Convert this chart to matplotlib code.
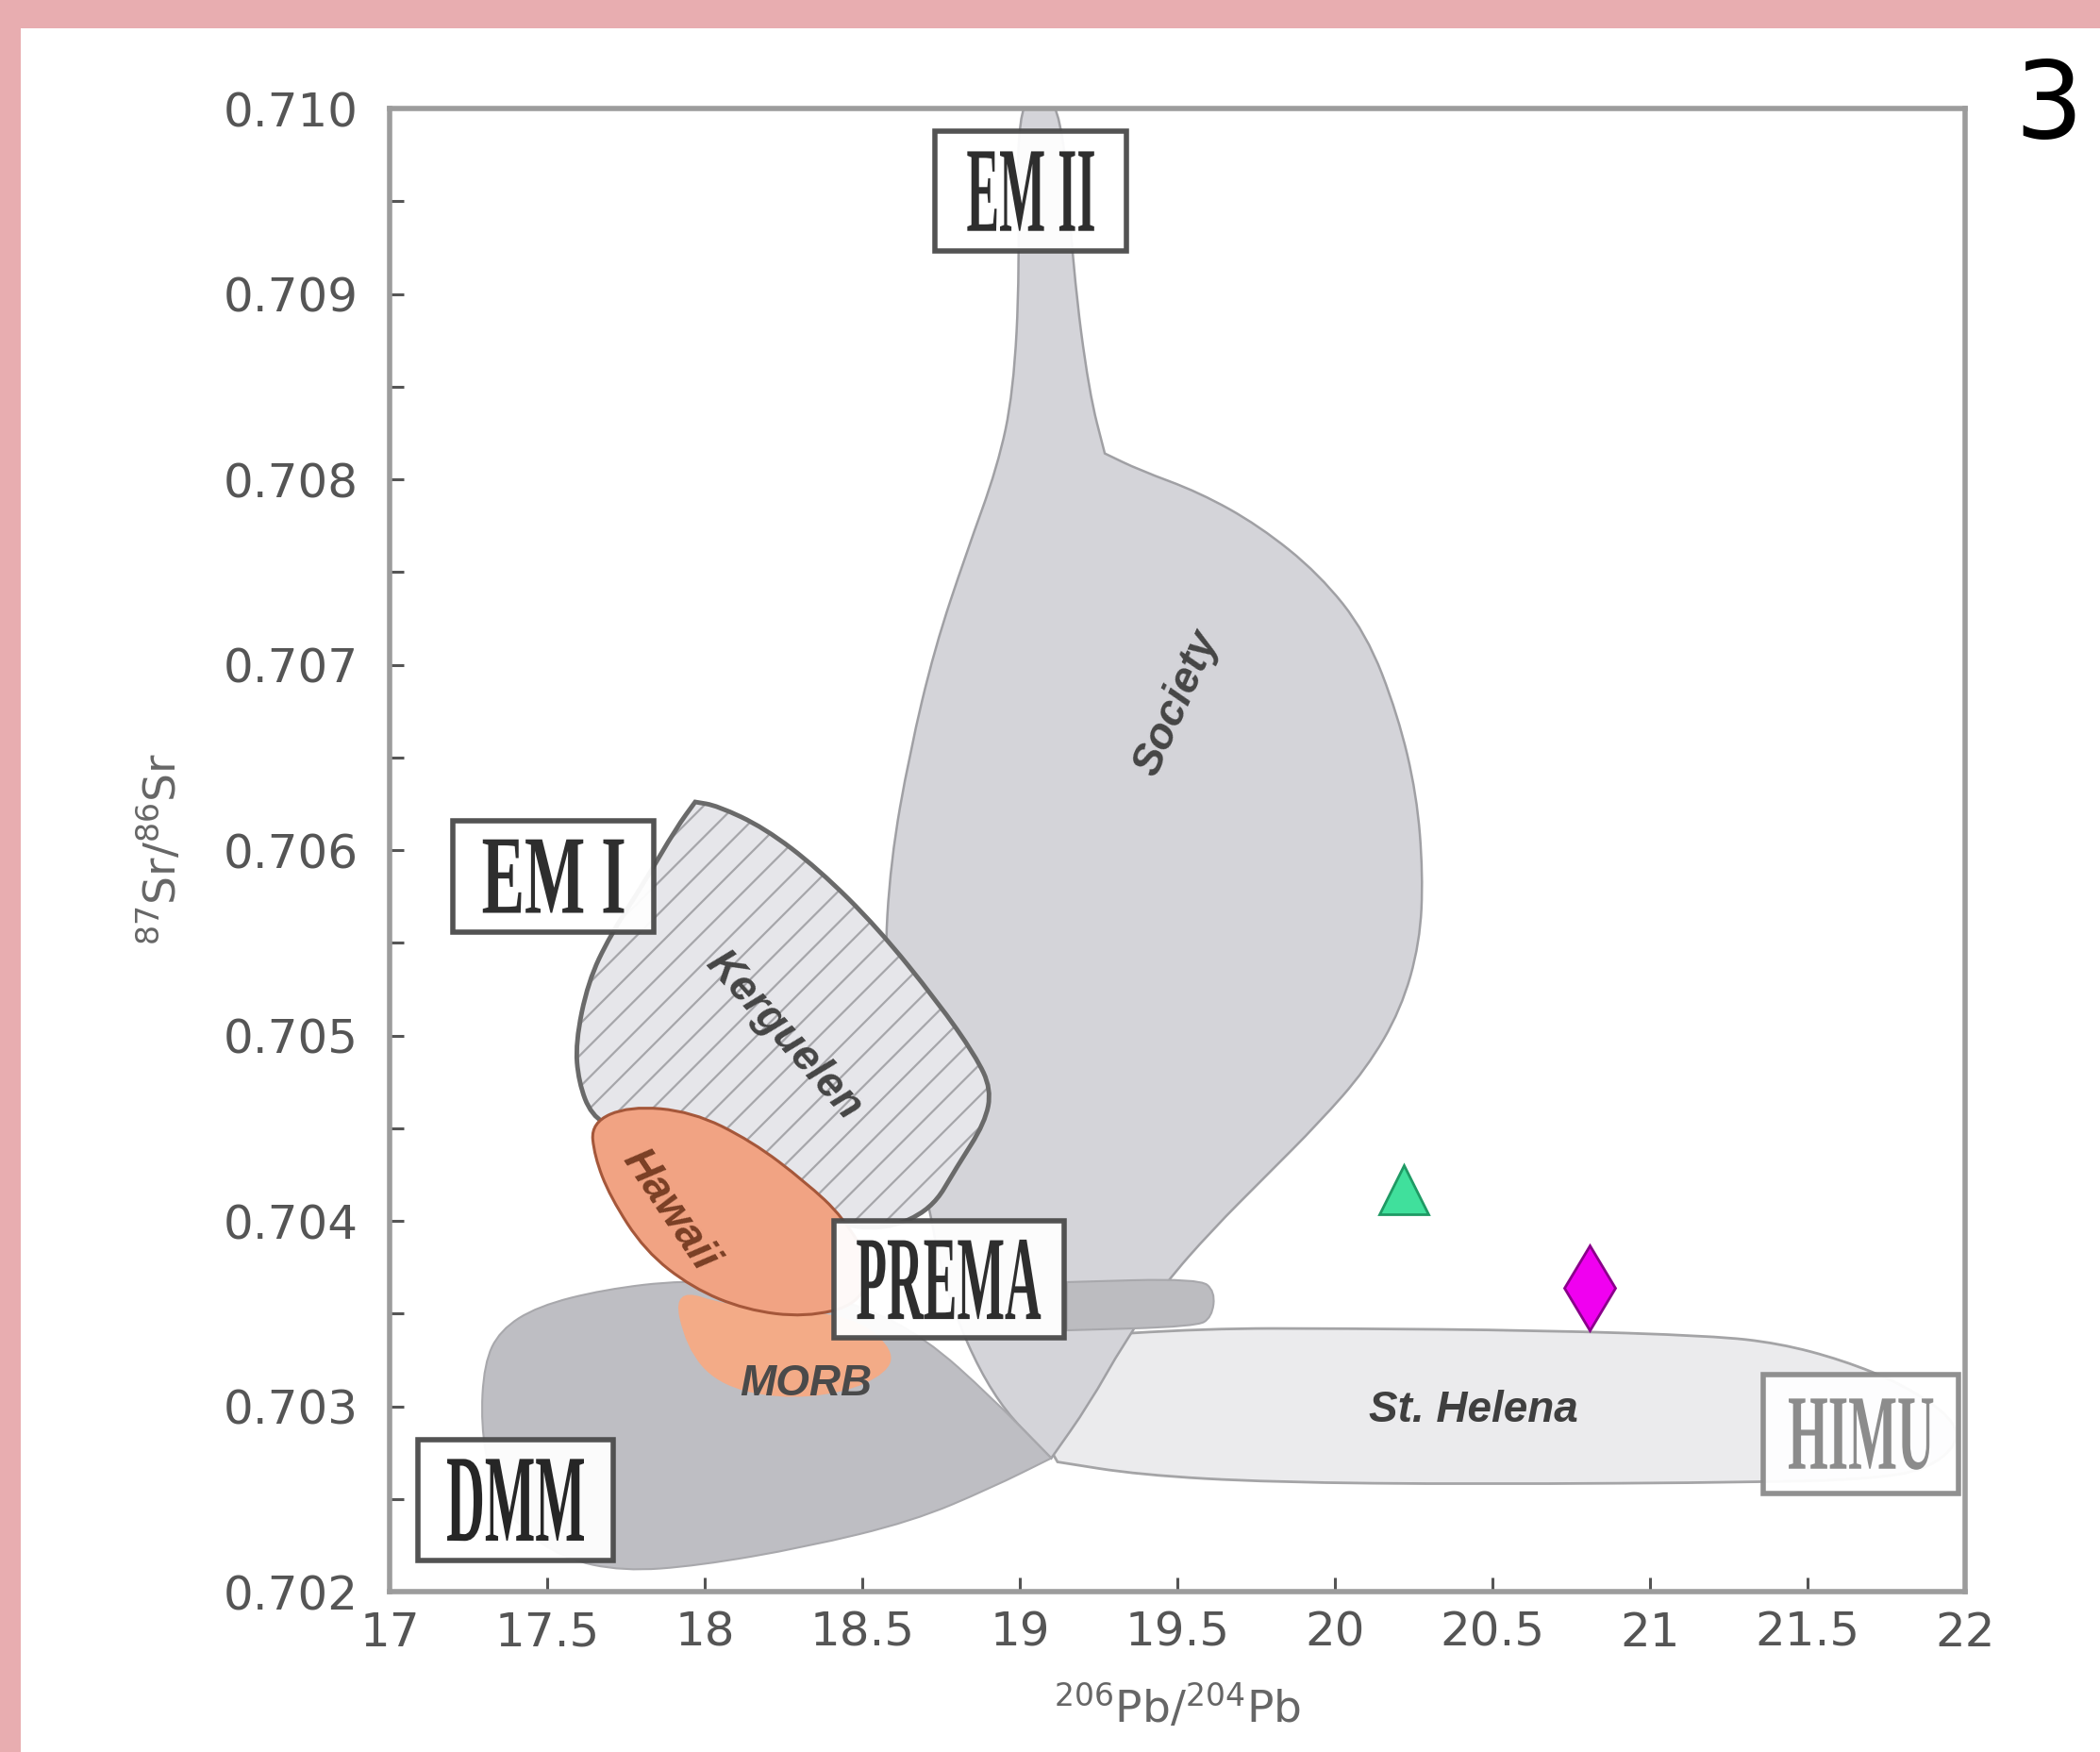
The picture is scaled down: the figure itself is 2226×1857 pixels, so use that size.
import matplotlib
matplotlib.use("Agg")
import matplotlib.pyplot as plt
from matplotlib.patches import Rectangle, PathPatch
from matplotlib.path import Path
from matplotlib.textpath import TextPath
from matplotlib.font_manager import FontProperties
from matplotlib.transforms import Affine2D
from matplotlib.ticker import MultipleLocator, FormatStrFormatter, FuncFormatter

# Campos (contornos): 206Pb/204Pb vs 87Sr/86Sr
society_x = [18.99, 19.00, 18.98, 18.93, 18.83, 18.73, 18.65, 18.59, 18.57, 18.60, 18.70, 18.76,
             18.91, 19.10, 19.22, 19.33, 19.46, 19.61, 19.78, 19.95, 20.10, 20.21, 20.27, 20.28,
             20.26, 20.20, 20.10, 19.95, 19.76, 19.57, 19.38, 19.27, 19.22, 19.17, 19.13]
society_y = [0.7101, 0.70912, 0.70847, 0.70807, 0.70760, 0.70709, 0.70652, 0.70594, 0.70536, 0.70478,
             0.70420, 0.70363, 0.70305, 0.70272, 0.70301, 0.70334, 0.70366, 0.70395, 0.70424, 0.70453,
             0.70482, 0.70514, 0.70550, 0.70587, 0.70630, 0.70673, 0.70717, 0.70749, 0.70775, 0.70793,
             0.70805, 0.70814, 0.70847, 0.70912, 0.7101]

sthelena_x = [19.00, 19.12, 19.59, 20.01, 20.65, 21.20, 21.41, 21.61, 21.80, 21.96, 21.98, 21.88,
              21.71, 21.37, 20.44, 19.80, 19.38, 19.12]
sthelena_y = [0.70305, 0.70337, 0.70342, 0.70342, 0.70341, 0.70338, 0.70334, 0.70325, 0.70312, 0.70294,
              0.70280, 0.70266, 0.70261, 0.70259, 0.70258, 0.70259, 0.70263, 0.70270]

solape_x = [19.15, 19.57, 19.62, 19.61, 19.56, 19.15]
solape_y = [0.70367, 0.70369, 0.70362, 0.70348, 0.70343, 0.70341]

dmm_x = [17.29, 17.30, 17.35, 17.47, 17.68, 17.93, 18.23, 18.49, 18.70, 18.91, 19.10, 18.91,
         18.66, 18.32, 17.98, 17.74, 17.55, 17.40, 17.32]
dmm_y = [0.70290, 0.70323, 0.70341, 0.70354, 0.70363, 0.70368, 0.70366, 0.70355, 0.70337, 0.70305,
         0.70272, 0.70256, 0.70238, 0.70224, 0.70214, 0.70211, 0.70218, 0.70236, 0.70261]

kerguelen_x = [17.59, 17.63, 17.70, 17.81, 17.91, 17.97, 18.04, 18.19, 18.36, 18.55, 18.74, 18.86,
               18.91, 18.89, 18.80, 18.72, 18.57, 18.40, 18.23, 18.06, 17.89, 17.72, 17.64, 17.60]
kerguelen_y = [0.70496, 0.70529, 0.70554, 0.70583, 0.70612, 0.70626, 0.70624, 0.70612, 0.70590, 0.70558,
               0.70518, 0.70489, 0.70471, 0.70453, 0.70429, 0.70406, 0.70395, 0.70399, 0.70413, 0.70435,
               0.70449, 0.70449, 0.70457, 0.70475]

hawaii_x = [17.64, 17.76, 17.96, 18.15, 18.32, 18.44, 18.53, 18.49, 18.32, 18.13, 17.96, 17.81, 17.70, 17.65]
hawaii_y = [0.70453, 0.70462, 0.70459, 0.70443, 0.70421, 0.70402, 0.70376, 0.70355, 0.70348, 0.70352,
            0.70364, 0.70384, 0.70413, 0.70435]

morb_x = [17.90, 18.08, 18.32, 18.50, 18.60, 18.58, 18.44, 18.23, 18.04, 17.94]
morb_y = [0.70364, 0.70354, 0.70352, 0.70346, 0.70330, 0.70318, 0.70307, 0.70304, 0.70312, 0.70332]

# Muestras
triangulo_x, triangulo_y = [20.22], [0.70417]
rombo_x, rombo_y = [20.81], [0.70364]

x_ticks = [17, 17.5, 18, 18.5, 19, 19.5, 20, 20.5, 21, 21.5, 22]
y_ticks = [0.702, 0.703, 0.704, 0.705, 0.706, 0.707, 0.708, 0.709, 0.710]

# Recuadros de miembros extremos: texto, x0, x1, y0, y1, margen
recuadros = [
    ("EM II", 18.73, 19.34, 0.70923, 0.70988, (0.17, 0.17), "#4a4a4a", "#2e2e2e"),
    ("EM I", 17.20, 17.84, 0.70556, 0.70616, (0.15, 0.17), "#4a4a4a", "#2e2e2e"),
    ("PREMA", 18.41, 19.14, 0.70337, 0.70400, (0.10, 0.16), "#4a4a4a", "#2e2e2e"),
    ("DMM", 17.09, 17.71, 0.70217, 0.70282, (0.15, 0.16), "#4a4a4a", "#262626"),
    ("HIMU", 21.36, 21.98, 0.70253, 0.70317, (0.13, 0.20), "#8a8a8a", "#8c8c8c"),
]

etiquetas = [
    ("Society", 19.50, 0.70679, 66, "#454545"),
    ("Kerguelen", 18.25, 0.70500, -48, "#454545"),
    ("Hawaii", 17.89, 0.70406, -56, "#7a3f25"),
    ("MORB", 18.32, 0.70312, 0, "#4a4a4a"),
    ("St. Helena", 20.44, 0.70298, 0, "#3f3f3f"),
]


def suave(x, y, esquinas=()):
    # contorno cerrado con curvas cuadraticas; los vertices en 'esquinas' quedan en punta
    pts = list(zip(x, y))
    n = len(pts)
    mid = lambda a, b: ((a[0] + b[0]) / 2, (a[1] + b[1]) / 2)
    verts = [mid(pts[0], pts[1])]
    codes = [Path.MOVETO]
    for i in range(1, n + 1):
        p = pts[i % n]
        verts += [p, mid(p, pts[(i + 1) % n])]
        if i % n in esquinas:
            codes += [Path.LINETO, Path.LINETO]
        else:
            codes += [Path.CURVE3, Path.CURVE3]
    verts.append(verts[0])
    codes.append(Path.CLOSEPOLY)
    return Path(verts, codes)


def recuadro(ax, texto, x0, x1, y0, y1, margen, borde, color):
    ax.add_patch(Rectangle((x0, y0), x1 - x0, y1 - y0, facecolor="white", edgecolor=borde,
                           lw=4, alpha=0.95, zorder=6))
    tp = TextPath((0, 0), texto, size=1,
                  prop=FontProperties(family="Liberation Serif", weight="bold"))
    ext = tp.get_extents()
    mx, my = margen
    ix0, ix1 = x0 + mx * (x1 - x0), x1 - mx * (x1 - x0)
    iy0, iy1 = y0 + my * (y1 - y0), y1 - my * (y1 - y0)
    tr = (Affine2D().translate(-ext.x0, -ext.y0)
          .scale((ix1 - ix0) / ext.width, (iy1 - iy0) / ext.height)
          .translate(ix0, iy0))
    ax.add_patch(PathPatch(tr.transform_path(tp), facecolor=color, edgecolor="none", zorder=7))


plt.rcParams["hatch.linewidth"] = 1.6

fig = plt.figure(figsize=(22.26, 18.57), dpi=100)
fig.patch.set_facecolor("white")
ax = fig.add_axes([0.1855, 0.0915, 0.7502, 0.8465])

# Marco rosa
fig.add_artist(Rectangle((0, 1 - 30 / 1857), 1, 30 / 1857, transform=fig.transFigure,
                         facecolor="#e8adb0", edgecolor="none"))
fig.add_artist(Rectangle((0, 0), 22 / 2226, 1, transform=fig.transFigure,
                         facecolor="#e8adb0", edgecolor="none"))

ax.add_patch(PathPatch(suave(sthelena_x, sthelena_y, esquinas=(0, 17)), facecolor="#ebebed",
                       edgecolor="#a4a4a6", lw=2, zorder=1))
ax.add_patch(PathPatch(suave(society_x, society_y, esquinas=(13, 31)), facecolor="#d4d4d9",
                       edgecolor="#a0a0a4", lw=1.8, zorder=2))
ax.add_patch(PathPatch(suave(solape_x, solape_y, esquinas=(0, 5)), facecolor="#bcbcc0",
                       edgecolor="#a8a8ac", lw=1.5, zorder=2.5))
ax.add_patch(PathPatch(suave(dmm_x, dmm_y, esquinas=(10,)), facecolor="#bebec3",
                       edgecolor="#a8a8ac", lw=1.5, zorder=3))
ax.add_patch(PathPatch(suave(kerguelen_x, kerguelen_y, esquinas=(5,)), facecolor="#e6e6ea",
                       edgecolor="#a6a6aa", hatch="/", lw=0, zorder=4))
ax.add_patch(PathPatch(suave(kerguelen_x, kerguelen_y, esquinas=(5,)), facecolor="none",
                       edgecolor="#6a6a6a", lw=3.5, zorder=4.1))
ax.add_patch(PathPatch(suave(morb_x, morb_y), facecolor="#f3ab87",
                       edgecolor="none", zorder=4.3))
ax.add_patch(PathPatch(suave(hawaii_x, hawaii_y), facecolor="#f1a383",
                       edgecolor="#a5573a", lw=2.2, zorder=4.5))

for texto, x, y, rot, color in etiquetas:
    ax.text(x, y, texto, rotation=rot, ha="center", va="center", fontsize=33,
            fontweight="bold", fontstyle="italic", family="Liberation Sans",
            color=color, zorder=5)

for texto, x0, x1, y0, y1, margen, borde, color in recuadros:
    recuadro(ax, texto, x0, x1, y0, y1, margen, borde, color)

ax.plot(triangulo_x, triangulo_y, marker="^", ms=38, color="#40e09c",
        markeredgecolor="#1f9a64", markeredgewidth=2, linestyle="none", zorder=8)
ax.plot(rombo_x, rombo_y, marker="d", ms=46, color="#f000f0",
        markeredgecolor="#8a008a", markeredgewidth=2, linestyle="none", zorder=8)

ax.set_xlim(17, 22)
ax.set_ylim(0.702, 0.710)
ax.set_xticks(x_ticks)
ax.set_yticks(y_ticks)
ax.xaxis.set_major_formatter(FuncFormatter(lambda v, p: f"{v:g}"))
ax.yaxis.set_major_formatter(FormatStrFormatter("%.3f"))
ax.yaxis.set_minor_locator(MultipleLocator(0.0005))
ax.tick_params(axis="both", which="both", direction="in", colors="#555555",
               labelsize=36, length=11, width=2.2)
ax.tick_params(axis="y", pad=24)
ax.tick_params(axis="x", pad=14)
for lab in ax.get_xticklabels() + ax.get_yticklabels():
    lab.set_color("#555555")
ax.tick_params(top=False, right=False)
for sp in ax.spines.values():
    sp.set_color("#9c9c9c")
    sp.set_linewidth(4)
    sp.set_zorder(9)

fig.text(0.5605, 0.0253, r"$^{206}$Pb/$^{204}$Pb", ha="center", va="center",
         fontsize=34, color="#666666")
fig.text(0.077, 0.5153, r"$^{87}$Sr/$^{86}$Sr", ha="center", va="center",
         rotation=90, fontsize=34, color="#666666")
fig.text(0.9757, 0.9386, "3", ha="center", va="center", fontsize=82, color="black")

fig.savefig("out.png", dpi=100)
